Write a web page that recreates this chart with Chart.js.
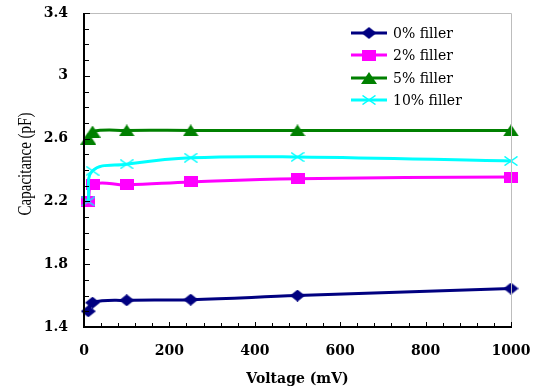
<!DOCTYPE html>
<html>
<head>
<meta charset="utf-8">
<script src="https://cdn.jsdelivr.net/npm/chart.js@4/dist/chart.umd.min.js"></script>
<style>
html,body{margin:0;padding:0;background:#fff;}
#wrap{width:541px;height:390px;position:relative;}
</style>
</head>
<body>
<div id="wrap"><canvas id="c" width="541" height="390"></canvas></div>
<script>
// ---- data ----
const voltages = [10, 20, 100, 250, 500, 1000];
const filler0  = [1.50, 1.555, 1.57, 1.574, 1.60, 1.645];
const filler2  = [2.20, 2.308, 2.305, 2.324, 2.345, 2.355];
const filler5  = [2.60, 2.645, 2.652, 2.652, 2.652, 2.652];
const filler10 = [2.20, 2.395, 2.437, 2.478, 2.483, 2.457];
const seriesNames = ['0% filler', '2% filler', '5% filler', '10% filler'];
const xTickValues = [0, 200, 400, 600, 800, 1000];
const yTickValues = [1.4, 1.8, 2.2, 2.6, 3.0, 3.4];
const xMinorStep = 40;
const yMinorStep = 0.1;

// ---- marker images ----
function marker(kind, color) {
  const c = document.createElement('canvas');
  const ctx = c.getContext('2d');
  if (kind === 'diamond') {
    c.width = 15; c.height = 12;
    ctx.fillStyle = color;
    ctx.beginPath(); ctx.moveTo(0, 6); ctx.lineTo(7.5, 0); ctx.lineTo(15, 6); ctx.lineTo(7.5, 12); ctx.closePath(); ctx.fill();
  } else if (kind === 'square') {
    c.width = 14; c.height = 11;
    ctx.fillStyle = color; ctx.fillRect(0, 0, 14, 11);
  } else if (kind === 'triangle') {
    c.width = 16; c.height = 12;
    ctx.fillStyle = color;
    ctx.beginPath(); ctx.moveTo(8, 0); ctx.lineTo(16, 12); ctx.lineTo(0, 12); ctx.closePath(); ctx.fill();
  } else {
    c.width = 14; c.height = 10;
    ctx.strokeStyle = color; ctx.lineWidth = 1.5;
    ctx.beginPath(); ctx.moveTo(0.5, 0.5); ctx.lineTo(13.5, 9.5); ctx.moveTo(13.5, 0.5); ctx.lineTo(0.5, 9.5); ctx.stroke();
  }
  return c;
}
const colors = ['#000080', '#FF00FF', '#008000', '#00FFFF'];
const markers = [
  marker('diamond', colors[0]),
  marker('square', colors[1]),
  marker('triangle', colors[2]),
  marker('x', colors[3])
];
const seriesData = [filler0, filler2, filler5, filler10];

function toPoints(ys) { return voltages.map((v, i) => ({x: v, y: ys[i]})); }

const datasets = seriesData.map((ys, i) => ({
  label: seriesNames[i],
  data: toPoints(ys),
  borderColor: colors[i],
  backgroundColor: colors[i],
  borderWidth: 3,
  pointStyle: markers[i],
  pointRadius: 3,
  pointHoverRadius: 3,
  pointBorderWidth: 0,
  tension: 0.4,
  fill: false,
  clip: false,
  order: 3 - i
}));

const tickFont = {family: '"DejaVu Serif"', size: 14, weight: 'bold'};

const decorPlugin = {
  id: 'decor',
  afterDraw(chart) {
    const ctx = chart.ctx;
    const a = chart.chartArea;
    const xs = chart.scales.x, ys = chart.scales.y;
    ctx.save();
    // top and right grey frame
    ctx.strokeStyle = '#BDBDBD'; ctx.lineWidth = 1;
    ctx.beginPath();
    ctx.moveTo(a.left, a.top + 0.5); ctx.lineTo(a.right + 0.5, a.top + 0.5); ctx.lineTo(a.right + 0.5, a.bottom);
    ctx.stroke();
    // axis lines
    ctx.strokeStyle = '#000'; ctx.lineWidth = 2;
    ctx.beginPath();
    ctx.moveTo(a.left, a.top); ctx.lineTo(a.left, a.bottom); ctx.lineTo(a.right + 1, a.bottom);
    ctx.stroke();
    // inward ticks
    ctx.lineWidth = 1;
    ctx.beginPath();
    const nx = Math.round((xs.max - xs.min) / xMinorStep);
    for (let k = 0; k <= nx; k++) {
      const v = xs.min + k * xMinorStep;
      const px = Math.round(xs.getPixelForValue(v)) + 0.5;
      const major = xTickValues.some(t => Math.abs(t - v) < 1e-6);
      ctx.moveTo(px, a.bottom); ctx.lineTo(px, a.bottom - (major ? 5 : 4));
    }
    const ny = Math.round((ys.max - ys.min) / yMinorStep);
    for (let k = 0; k <= ny; k++) {
      const v = ys.min + k * yMinorStep;
      const py = Math.round(ys.getPixelForValue(v)) + 0.5;
      const major = yTickValues.some(t => Math.abs(t - v) < 1e-6);
      ctx.moveTo(a.left, py); ctx.lineTo(a.left + (major ? 6 : 5), py);
    }
    ctx.stroke();
    // y axis title
    ctx.fillStyle = '#000';
    ctx.font = '15px "Liberation Serif"';
    ctx.textAlign = 'center'; ctx.textBaseline = 'middle';
    ctx.translate(26, 164); ctx.rotate(-Math.PI / 2); ctx.scale(1, 1.25);
    ctx.fillText('Capacitance (pF)', 0, 0);
    ctx.restore();
    // legend
    ctx.save();
    const rows = [33, 55, 78, 100];
    ctx.font = '14px "DejaVu Serif"';
    ctx.textAlign = 'left'; ctx.textBaseline = 'middle';
    for (let i = 0; i < 4; i++) {
      const y = rows[i];
      ctx.strokeStyle = colors[i]; ctx.lineWidth = 3;
      ctx.beginPath(); ctx.moveTo(351, y); ctx.lineTo(387, y); ctx.stroke();
      const m = markers[i];
      ctx.drawImage(m, 369 - m.width / 2, y - m.height / 2);
      ctx.fillStyle = '#000';
      ctx.fillText(seriesNames[i], 393, y + 1);
    }
    ctx.restore();
  }
};

new Chart(document.getElementById('c'), {
  type: 'line',
  data: {datasets},
  options: {
    responsive: false,
    animation: false,
    events: [],
    layout: {autoPadding: false, padding: {left: 0, right: 30, top: 13, bottom: 0}},
    plugins: {legend: {display: false}, tooltip: {enabled: false}},
    scales: {
      x: {
        type: 'linear', min: 0, max: 1000,
        afterFit(s) { s.height = 63; s.paddingLeft = 0; s.paddingRight = 0; s.paddingTop = 0; s.paddingBottom = 0; },
        afterBuildTicks(s) { s.ticks = xTickValues.map(v => ({value: v})); },
        grid: {display: false, drawTicks: false},
        border: {display: false},
        ticks: {color: '#000', font: tickFont, padding: 16, maxRotation: 0, autoSkip: false,
                callback: v => String(v)},
        title: {display: true, text: 'Voltage (mV)', color: '#000',
                font: {family: '"DejaVu Serif"', size: 14, weight: 'bold'},
                padding: {top: 0, bottom: 2}}
      },
      y: {
        type: 'linear', min: 1.4, max: 3.4,
        afterFit(s) { s.width = 84; s.paddingLeft = 0; s.paddingRight = 0; s.paddingTop = 0; s.paddingBottom = 0; },
        afterBuildTicks(s) { s.ticks = yTickValues.map(v => ({value: v})); },
        grid: {display: false, drawTicks: false},
        border: {display: false},
        ticks: {color: '#000', font: tickFont, padding: 16, autoSkip: false,
                callback: v => String(Number(v.toFixed(1)))}
      }
    }
  },
  plugins: [decorPlugin]
});
</script>
</body>
</html>
